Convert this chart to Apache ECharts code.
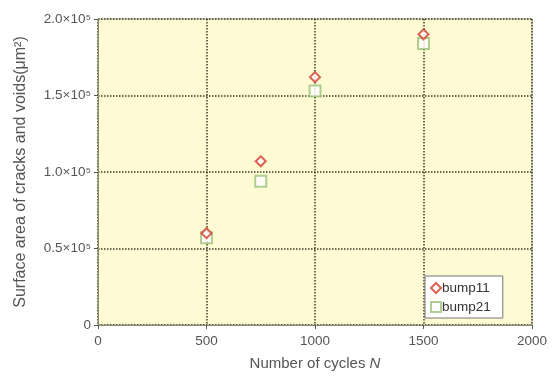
<!DOCTYPE html>
<html><head><meta charset="utf-8">
<script src="https://cdn.jsdelivr.net/npm/echarts@6/dist/echarts.min.js"></script>
<style>html,body{margin:0;padding:0;background:#fff}#c{width:558px;height:376px}</style>
</head><body><div id="c"></div>
<script>
const cycles = [500, 750, 1000, 1500];
const bump11 = [0.60, 1.07, 1.62, 1.90];
const bump21 = [0.57, 0.94, 1.53, 1.84];
const yTickLabels = {0: '0', 0.5: '0.5×10⁵', 1: '1.0×10⁵', 1.5: '1.5×10⁵', 2: '2.0×10⁵'};
const seriesNames = ['bump11', 'bump21'];

const chart = echarts.init(document.getElementById('c'));
const font = 'Liberation Sans, Arial, sans-serif';
chart.setOption({
  animation: false,
  textStyle: {fontFamily: font},
  grid: {left: 98, right: 26, top: 19, bottom: 51, show: true, backgroundColor: '#fefad4', borderColor: '#b5b38a', borderWidth: 1},
  xAxis: {
    type: 'value', min: 0, max: 2000, interval: 500,
    axisLine: {show: true, lineStyle: {color: '#8a8a70'}},
    axisTick: {show: true, length: 4, lineStyle: {color: '#555'}},
    axisLabel: {color: '#555', fontSize: 13.5, margin: 9, formatter: v => String(v)},
    splitLine: {show: true, lineStyle: {color: '#3d3d25', type: 'dotted', width: 1.5}},
    name: '{t|Number of cycles }{i|N}', nameLocation: 'middle', nameGap: 31,
    nameTextStyle: {rich: {t: {color: '#555', fontSize: 15, fontFamily: font}, i: {color: '#555', fontSize: 15, fontStyle: 'italic', fontFamily: font}}}
  },
  yAxis: {
    type: 'value', min: 0, max: 2, interval: 0.5,
    axisLine: {show: true, lineStyle: {color: '#8a8a70'}},
    axisTick: {show: true, length: 4, lineStyle: {color: '#555'}},
    axisLabel: {color: '#555', fontSize: 13.5, margin: 7, formatter: v => yTickLabels[v]},
    splitLine: {show: true, lineStyle: {color: '#3d3d25', type: 'dotted', width: 1.5}},
    name: 'Surface area of cracks and voids(μm²)', nameLocation: 'middle', nameGap: 69,
    nameTextStyle: {color: '#555', fontSize: 16}
  },
  legend: {
    orient: 'vertical', left: 425, top: 276, itemWidth: 10, itemHeight: 10, itemGap: 5,
    padding: [5, 12, 4, 5],
    backgroundColor: '#ffffff', borderColor: '#777', borderWidth: 1,
    textStyle: {color: '#333', fontSize: 13.5, padding: [0, 0, 0, -4]},
    data: [{name: seriesNames[0], icon: 'emptyDiamond'}, {name: seriesNames[1], icon: 'emptyRect'}]
  },
  series: [
    {name: seriesNames[0], type: 'scatter', symbol: 'emptyDiamond', symbolSize: 10, z: 3,
     itemStyle: {color: '#d23a2a', borderColor: '#d23a2a', borderWidth: 2},
     data: cycles.map((c, i) => [c, bump11[i]])},
    {name: seriesNames[1], type: 'scatter', symbol: 'emptyRect', symbolSize: 11, z: 2,
     itemStyle: {color: '#9cc27a', borderColor: '#9cc27a', borderWidth: 1.5},
     data: cycles.map((c, i) => [c, bump21[i]])}
  ]
});
</script></body></html>
